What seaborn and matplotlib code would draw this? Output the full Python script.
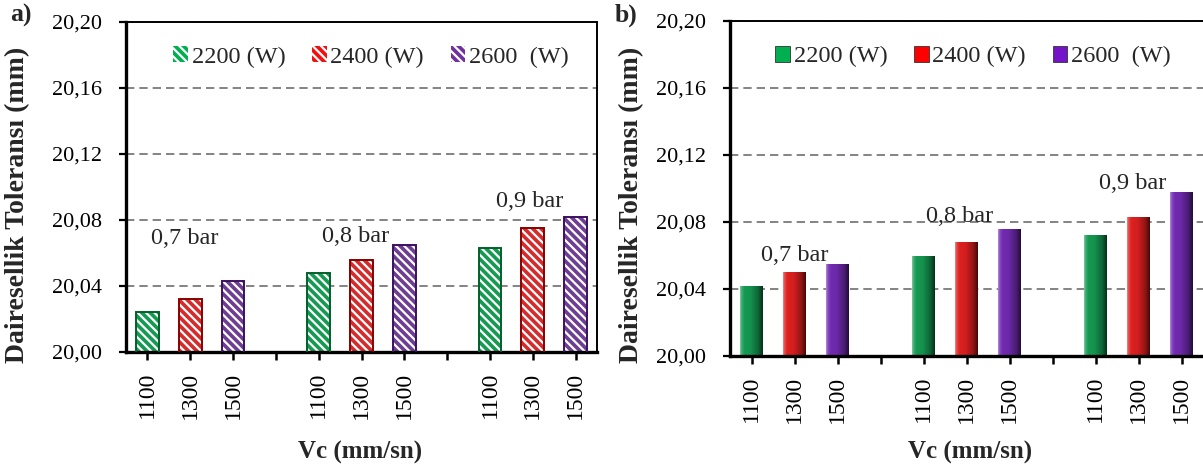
import numpy as np
import pandas as pd
import matplotlib
matplotlib.use("Agg")
import matplotlib.pyplot as plt
import seaborn as sns
from matplotlib.patches import Patch
from matplotlib.ticker import FuncFormatter

# ---- data -------------------------------------------------------------
pressures = ["0,7 bar", "0,8 bar", "0,9 bar"]
speeds = ["1100", "1300", "1500"]                 # Vc (mm/sn)
powers = ["2200 (W)", "2400 (W)", "2600  (W)"]    # laser power

# roundness tolerance (mm), one row per gas pressure, columns follow speeds/powers
tol_a = [[20.024, 20.032, 20.043],
         [20.048, 20.056, 20.065],
         [20.063, 20.075, 20.082]]
tol_b = [[20.042, 20.050, 20.055],
         [20.060, 20.068, 20.076],
         [20.072, 20.083, 20.098]]

# ---- style ------------------------------------------------------------
sns.set_theme(style="white")
plt.rcParams["font.family"] = ["Liberation Serif", "DejaVu Serif"]
plt.rcParams["hatch.linewidth"] = 1.6

colors_a = ["#00B050", "#F01010", "#7030A0"]
edges_a = ["#00602A", "#8A0000", "#3C1060"]
colors_b = ["#00B050", "#FF0000", "#7414C8"]

GAP = 4  # slots per pressure group (3 bars + one empty slot)


def make_frame(values):
    rows = []
    for g, p in enumerate(pressures):
        for i, (vc, pw) in enumerate(zip(speeds, powers)):
            rows.append(dict(slot=g * GAP + i, Vc=vc, power=pw,
                             pressure=p, tol=values[g][i]))
    return pd.DataFrame(rows)


def style_axes(ax, df):
    ax.set_xlim(-0.5, 3 * GAP - 1.5)
    ax.set_ylim(20.0, 20.2)
    ax.set_yticks(np.arange(20.0, 20.2001, 0.04))
    ax.yaxis.set_major_formatter(FuncFormatter(lambda v, _: f"{v:.2f}".replace(".", ",")))
    slots = list(range(3 * GAP - 1))
    lab = dict(zip(df["slot"], df["Vc"]))
    ax.set_xticks(slots)
    ax.set_xticklabels([lab.get(s, "") for s in slots], rotation=90, fontsize=17)
    ax.tick_params(axis="y", direction="out", length=5, width=1.6, labelsize=16,
                   left=True, pad=12, colors="black")
    ax.tick_params(axis="x", direction="out", length=6, width=1.8, bottom=True,
                   pad=8, colors="black")
    ax.yaxis.grid(True, linestyle=(0, (5, 3)), color="#6e6e6e", linewidth=1.2)
    ax.xaxis.grid(False)
    ax.set_axisbelow(True)
    for s in ["left", "bottom"]:
        ax.spines[s].set_linewidth(2.4)
        ax.spines[s].set_color("black")
    for s in ["top", "right"]:
        ax.spines[s].set_linewidth(1.4)
        ax.spines[s].set_color("black")
    ax.set_xlabel("")
    ax.set_ylabel("")


fig = plt.figure(figsize=(12.03, 4.69), dpi=100)
ax_a = fig.add_axes([126 / 1203, 1 - 352 / 469, 471 / 1203, 330 / 469])
ax_b = fig.add_axes([730 / 1203, 1 - 356 / 469, 473 / 1203, 335 / 469])

# ---- panel a: hatched bars ---------------------------------------------
df_a = make_frame(tol_a)
sns.barplot(data=df_a, x="slot", y="tol", hue="power", hue_order=powers,
            palette=colors_a, native_scale=True, dodge=False, width=0.53,
            errorbar=None, legend=False, ax=ax_a, zorder=2)
for bar in list(ax_a.patches):
    bar.set_hatch("\\\\\\\\")
    bar.set_edgecolor("white")
    bar.set_linewidth(0)
# dark outline around each bar
sns.barplot(data=df_a, x="slot", y="tol", hue="power", hue_order=powers,
            palette=edges_a, native_scale=True, dodge=False, width=0.53,
            errorbar=None, legend=False, fill=False, linewidth=1.4, ax=ax_a, zorder=3)
style_axes(ax_a, df_a)

# ---- panel b: shaded solid bars ----------------------------------------
df_b = make_frame(tol_b)
sns.barplot(data=df_b, x="slot", y="tol", hue="power", hue_order=powers,
            palette=colors_b, native_scale=True, dodge=False, width=0.53,
            errorbar=None, legend=False, linewidth=0, ax=ax_b, zorder=2)
style_axes(ax_b, df_b)
ax_b.spines["right"].set_visible(False)

# horizontal light-to-dark shading for a rounded look
xs = np.linspace(0, 1, 64)
alpha_dark = np.interp(xs, [0, 0.12, 0.45, 0.8, 1.0], [0.0, 0.0, 0.05, 0.35, 0.7])
alpha_light = np.interp(xs, [0, 0.08, 0.2, 1.0], [0.45, 0.15, 0.0, 0.0])
shade = np.zeros((1, 64, 4))
shade[..., 3] = alpha_dark
hl = np.ones((1, 64, 4))
hl[..., 3] = alpha_light
ybot = ax_b.get_ylim()[0]
for bar in list(ax_b.patches):
    x0 = bar.get_x()
    w = bar.get_width()
    ytop = bar.get_y() + bar.get_height()
    for img in (shade, hl):
        im = ax_b.imshow(img, extent=(x0, x0 + w, ybot, ytop), aspect="auto",
                         interpolation="bilinear", zorder=2.5)
        im.set_clip_path(bar)
ax_b.set_xlim(-0.5, 3 * GAP - 1.5)
ax_b.set_ylim(20.0, 20.2)

# ---- pressure annotations ----------------------------------------------
label_pos_a = [(0.88, 20.0686), (4.85, 20.0698), (8.93, 20.0910)]
label_pos_b = [(1.01, 20.0602), (4.85, 20.0830), (8.87, 20.1029)]
for ax, pos in ((ax_a, label_pos_a), (ax_b, label_pos_b)):
    for p, (x, y) in zip(pressures, pos):
        ax.text(x, y, p, ha="center", va="center", fontsize=17.5, zorder=4)

# ---- legends -----------------------------------------------------------
hand_a = [Patch(facecolor=c, edgecolor="white", hatch="\\\\\\\\", linewidth=0)
          for c in colors_a]
hand_b = [Patch(facecolor=c, edgecolor="#333333", linewidth=0.6) for c in colors_b]
for ax, hands, xc, yc in ((ax_a, hand_a, 0.52, 0.894), (ax_b, hand_b, 0.514, 0.893)):
    ax.legend(hands, powers, loc="center", bbox_to_anchor=(xc, yc), ncol=3,
              frameon=False, fontsize=17.5, handlelength=0.6, handleheight=0.6,
              handletextpad=0.15, columnspacing=1.1, borderaxespad=0)

# ---- axis titles and panel tags ----------------------------------------
ylab = "Dairesellik Toleransı (mm)"
fig.text(18 / 1203, 1 - 205 / 469, ylab, rotation=90, ha="center", va="center",
         fontsize=20, fontweight="bold")
fig.text(632 / 1203, 1 - 205 / 469, ylab, rotation=90, ha="center", va="center",
         fontsize=20, fontweight="bold")
fig.text(360 / 1203, 1 - 452 / 469, "Vc (mm/sn)", ha="center", va="center",
         fontsize=18, fontweight="bold")
fig.text(970 / 1203, 1 - 452 / 469, "Vc (mm/sn)", ha="center", va="center",
         fontsize=18, fontweight="bold")
fig.text(10 / 1203, 1 - 15 / 469, "a)", ha="left", va="center",
         fontsize=18.5, fontweight="bold")
fig.text(615 / 1203, 1 - 15 / 469, "b)", ha="left", va="center",
         fontsize=18.5, fontweight="bold")

fig.savefig("out.png", dpi=100, facecolor="white")
